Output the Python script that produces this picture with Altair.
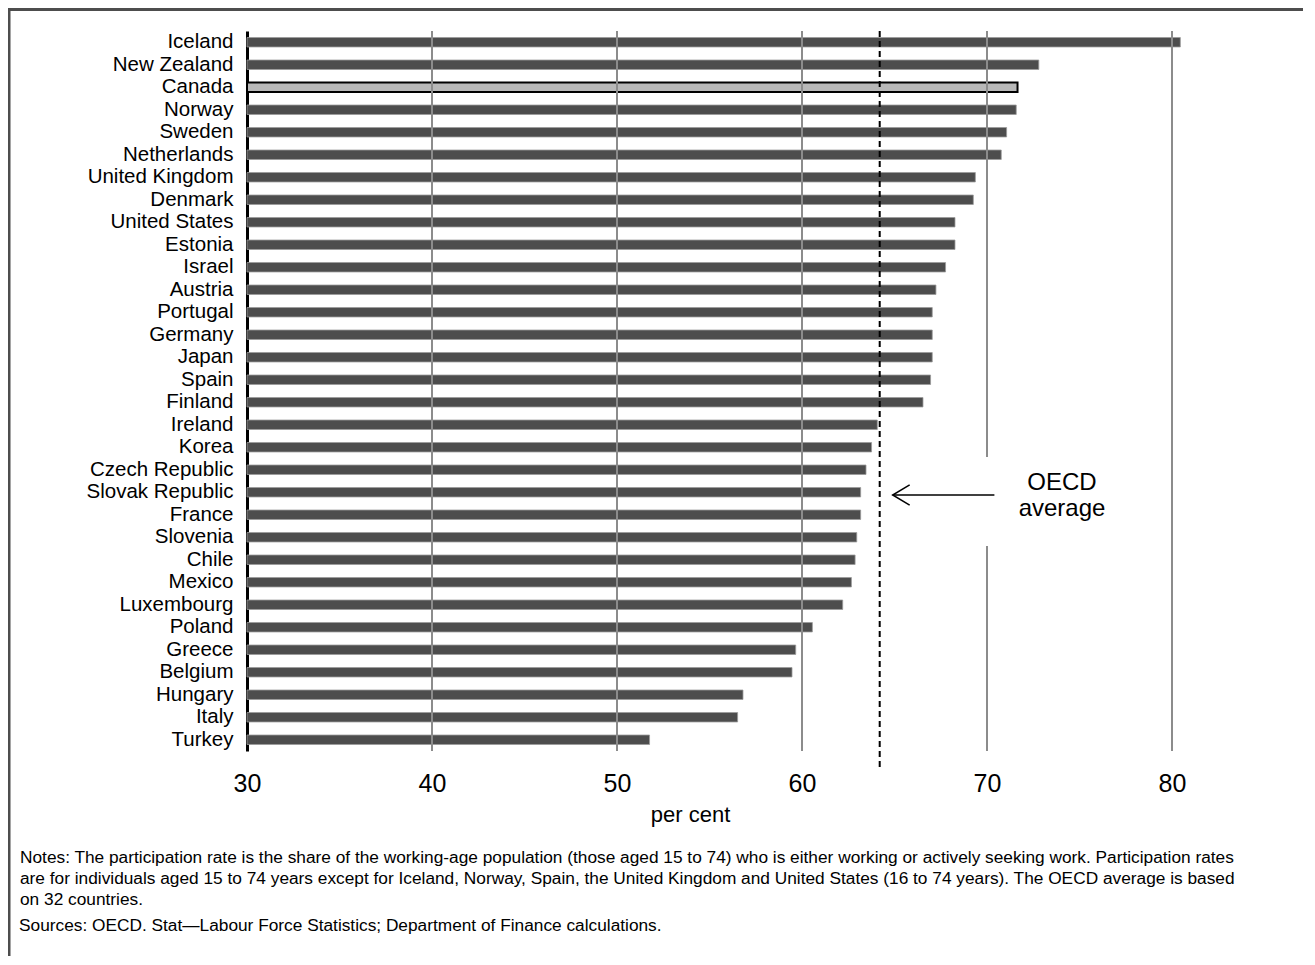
import altair as alt
import pandas as pd

countries = ["Iceland", "New Zealand", "Canada", "Norway", "Sweden", "Netherlands",
             "United Kingdom", "Denmark", "United States", "Estonia", "Israel", "Austria",
             "Portugal", "Germany", "Japan", "Spain", "Finland", "Ireland", "Korea",
             "Czech Republic", "Slovak Republic", "France", "Slovenia", "Chile", "Mexico",
             "Luxembourg", "Poland", "Greece", "Belgium", "Hungary", "Italy", "Turkey"]
rates = [80.45, 72.8, 71.65, 71.58, 71.06, 70.77, 69.37, 69.26, 68.27, 68.27, 67.76, 67.24,
         67.04, 67.04, 67.04, 66.95, 66.54, 64.07, 63.76, 63.46, 63.17, 63.17, 62.96, 62.87,
         62.67, 62.2, 60.56, 59.66, 59.46, 56.81, 56.52, 51.76]
highlight = "Canada"
tick_values = [30, 40, 50, 60, 70, 80]
grid_values = [40, 50, 60, 70, 80]
oecd_average = 64.2
arrow_start = 70.4
arrow_end = 64.9
annotation_lines = ["OECD", "average"]
notes_lines = [
    "Notes: The participation rate is the share of the working-age population (those aged 15 to 74) who is either working or actively seeking work. Participation rates",
    " are for individuals aged 15 to 74 years except for Iceland, Norway, Spain, the United Kingdom and United States (16 to 74 years). The OECD average is based",
    "on 32 countries.",
]
sources_line = "Sources: OECD. Stat\u2014Labour Force Statistics; Department of Finance calculations."

W, H = 1036, 720
TOP = 23
FONT = "Liberation Sans"

df = pd.DataFrame({"country": countries, "rate": rates})
df["base"] = 30
xscale = alt.Scale(domain=[30, 86], nice=False, zero=False)

y_enc = alt.Y("country:N", sort=countries,
              scale=alt.Scale(paddingInner=0.58, paddingOuter=0.29),
              axis=alt.Axis(title=None, domain=True, domainColor="black", domainWidth=3,
                            ticks=False, grid=False, labelFontSize=20.5, labelColor="black",
                            labelFont=FONT, labelPadding=14, labelLimit=400))

x_main = alt.X("rate:Q", scale=xscale, title="per cent",
               axis=alt.Axis(values=tick_values, grid=False, domain=False, ticks=False,
                             labelFlush=False, labelFontSize=25, labelColor="black",
                             labelFont=FONT, labelPadding=20, labelFontWeight="normal",
                             titleFontSize=22, titleFont=FONT, titleColor="black",
                             titleFontWeight="normal", titleX=443, titleY=63,
                             titleAlign="center", titleBaseline="middle"))

bars = alt.Chart(df).transform_filter(alt.datum.country != highlight).mark_bar(
    color="#4d4d4d", stroke="#9a9a9a", strokeWidth=0.8
).encode(x=x_main, x2="base:Q", y=y_enc)

bar_hi = alt.Chart(df).transform_filter(alt.datum.country == highlight).mark_bar(
    color="#b8b8b8", stroke="black", strokeWidth=2
).encode(x=alt.X("rate:Q", scale=xscale, title="per cent"), x2="base:Q", y=y_enc)

grid = alt.Chart(pd.DataFrame({"rate": grid_values})).mark_rule(
    color="#8c8c8c", strokeWidth=2
).encode(x=alt.X("rate:Q", scale=xscale, title="per cent"), y=alt.value(0), y2=alt.value(H))

gap = alt.Chart(pd.DataFrame({"k": [0]})).mark_rect(color="white").encode(
    x=alt.value(730), x2=alt.value(890), y=alt.value(426), y2=alt.value(515))

avg_rule = alt.Chart(pd.DataFrame({"rate": [oecd_average]})).mark_rule(
    color="black", strokeWidth=2, strokeDash=[6, 4]
).encode(x=alt.X("rate:Q", scale=xscale, title="per cent"), y=alt.value(0), y2=alt.value(739))

arrow_df = pd.DataFrame({"rate": [arrow_start], "rate2": [arrow_end]})
shaft = alt.Chart(arrow_df).mark_rule(color="black", strokeWidth=1.5).encode(
    x=alt.X("rate:Q", scale=xscale, title="per cent"), x2="rate2:Q", y=alt.value(464))
head = alt.Chart(pd.DataFrame({"rate": [arrow_end]})).mark_point(
    shape="M 1 -0.6 L 0 0 L 1 0.6", size=1156, filled=False, color="black",
    strokeWidth=1.5, opacity=1
).encode(x=alt.X("rate:Q", scale=xscale, title="per cent"), y=alt.value(464))

label = alt.Chart(pd.DataFrame({"k": [0]})).mark_text(
    text=annotation_lines, font=FONT, fontSize=24, align="center", baseline="top",
    lineHeight=26, color="black"
).encode(x=alt.value(815), y=alt.value(440))

band = alt.Chart(pd.DataFrame({"k": [0]})).mark_rect(color="#4d4d4d").encode(
    x=alt.value(-239), x2=alt.value(W + 20), y=alt.value(-TOP), y2=alt.value(-TOP + 3))
border = alt.Chart(pd.DataFrame({"k": [0]})).mark_rect(color="#4d4d4d").encode(
    x=alt.value(-239), x2=alt.value(-236.5), y=alt.value(-TOP), y2=alt.value(H + 205))

notes = alt.Chart(pd.DataFrame({"k": [0]})).mark_text(
    text=notes_lines, font=FONT, fontSize=17.3, align="left", baseline="top",
    lineHeight=21, color="black"
).encode(x=alt.value(-227), y=alt.value(818))
sources = alt.Chart(pd.DataFrame({"k": [0]})).mark_text(
    text=sources_line, font=FONT, fontSize=17.3, align="left", baseline="top",
    color="black"
).encode(x=alt.value(-228), y=alt.value(886))

chart = alt.layer(
    bars, bar_hi, grid, gap, avg_rule, shaft, head, label, band, border, notes, sources
).properties(
    width=W, height=H,
    padding={"left": 239, "top": TOP, "right": 20, "bottom": 205},
    autosize=alt.AutoSizeParams(type="none"),
    background="white",
).configure_view(stroke=None)

chart.save("out.html", embed_options={"renderer": "svg", "actions": False})
